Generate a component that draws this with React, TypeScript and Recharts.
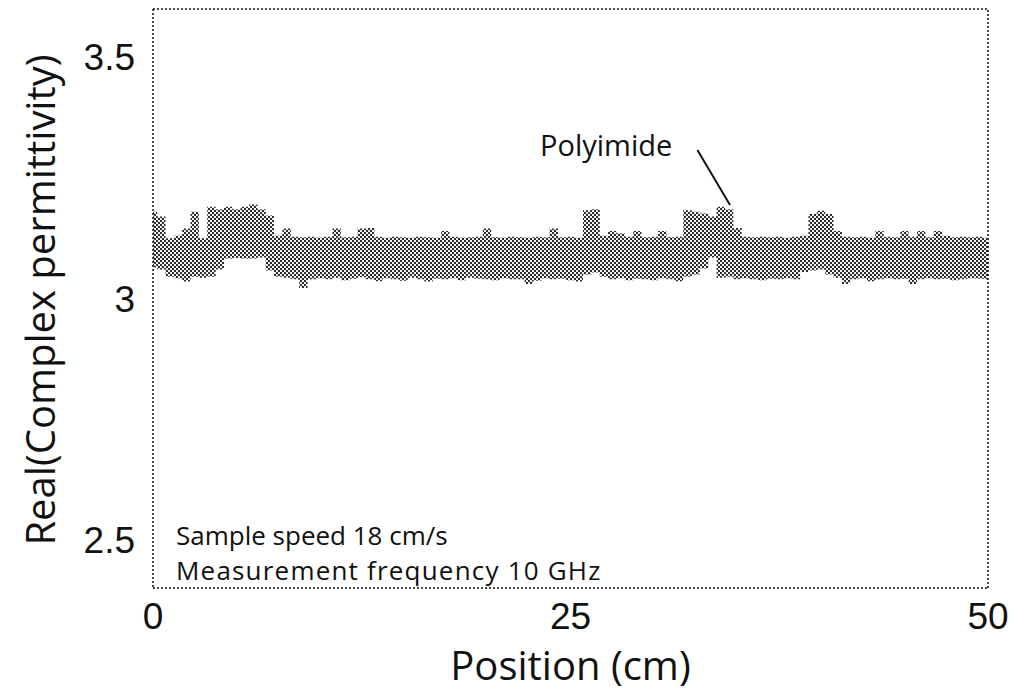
import React from 'react';
import {
  ComposedChart,
  Area,
  XAxis,
  YAxis,
  ReferenceLine,
} from 'recharts';

// upper / lower envelope of the measured band, sampled every 0.5 cm (0 .. 50 cm)
const upper = [
  3.18, 3.17, 3.125, 3.13, 3.145, 3.18, 3.125, 3.19, 3.185, 3.19,
  3.185, 3.19, 3.195, 3.185, 3.172, 3.13, 3.145, 3.128, 3.127, 3.128,
  3.126, 3.128, 3.145, 3.127, 3.128, 3.145, 3.146, 3.128, 3.126, 3.128,
  3.127, 3.126, 3.128, 3.127, 3.126, 3.14, 3.128, 3.126, 3.127, 3.128,
  3.145, 3.127, 3.126, 3.128, 3.127, 3.126, 3.128, 3.127, 3.145, 3.127,
  3.128, 3.126, 3.183, 3.185, 3.13, 3.14, 3.135, 3.128, 3.14, 3.127,
  3.128, 3.14, 3.127, 3.128, 3.183, 3.18, 3.176, 3.17, 3.19, 3.185,
  3.146, 3.128, 3.127, 3.128, 3.127, 3.128, 3.126, 3.128, 3.13, 3.175,
  3.182, 3.175, 3.14, 3.128, 3.127, 3.128, 3.126, 3.14, 3.128, 3.127,
  3.14, 3.128, 3.14, 3.127, 3.14, 3.13, 3.127, 3.128, 3.127, 3.128,
  3.126,
];

const lower = [
  3.065, 3.06, 3.045, 3.042, 3.035, 3.045, 3.043, 3.045, 3.06, 3.083,
  3.084, 3.083, 3.083, 3.085, 3.058, 3.045, 3.043, 3.04, 3.022, 3.04,
  3.042, 3.04, 3.043, 3.038, 3.041, 3.044, 3.04, 3.036, 3.042, 3.04,
  3.037, 3.043, 3.04, 3.035, 3.041, 3.04, 3.042, 3.038, 3.043, 3.041,
  3.04, 3.038, 3.042, 3.04, 3.04, 3.03, 3.037, 3.042, 3.04, 3.041,
  3.038, 3.035, 3.05, 3.054, 3.045, 3.04, 3.042, 3.038, 3.041, 3.04,
  3.038, 3.042, 3.04, 3.036, 3.045, 3.05, 3.062, 3.085, 3.043, 3.045,
  3.04, 3.042, 3.04, 3.038, 3.041, 3.04, 3.042, 3.04, 3.055, 3.058,
  3.06, 3.05, 3.043, 3.03, 3.04, 3.042, 3.036, 3.04, 3.042, 3.04,
  3.041, 3.03, 3.04, 3.042, 3.04, 3.041, 3.038, 3.04, 3.042, 3.041,
  3.04,
];

const xTicks = [0, 25, 50];
const yTicks = [2.5, 3, 3.5];

const data = upper.map((hi, i) => ({ x: i * 0.5, band: [lower[i], hi] }));

const tickFont = { fontFamily: '"Liberation Sans Narrow", "Liberation Sans", sans-serif', fontSize: 37, fill: '#111' };
const border = { stroke: '#111', strokeWidth: 1.5, strokeDasharray: '2 2' };
const textFont = '"Open Sans", sans-serif';

export default function App() {
  return (
    <div style={{ position: 'absolute', left: 0, top: 0, width: 1016, height: 696, background: '#fff' }}>
      <ComposedChart
        width={1016}
        height={696}
        data={data}
        margin={{ top: 9, right: 28, bottom: 0, left: 0 }}
      >
        <defs>
          <pattern id="halftone" width="4" height="4" patternUnits="userSpaceOnUse">
            <circle cx="1" cy="1" r="1.15" fill="#222" />
            <circle cx="3" cy="3" r="1.15" fill="#222" />
          </pattern>
        </defs>
        <XAxis
          dataKey="x"
          type="number"
          domain={[0, 50]}
          ticks={xTicks}
          tickLine={false}
          axisLine={border}
          tick={tickFont}
          tickMargin={9}
          height={108}
        />
        <YAxis
          type="number"
          domain={[2.4, 3.6]}
          ticks={yTicks}
          tickLine={false}
          axisLine={border}
          tick={tickFont}
          tickMargin={12}
          width={153}
        />
        {/* top and right edges of the frame */}
        <ReferenceLine y={3.6} {...border} />
        <ReferenceLine x={50} {...border} />
        <Area
          dataKey="band"
          type="step"
          stroke="none"
          fill="url(#halftone)"
          fillOpacity={1}
          isAnimationActive={false}
        />
        <ReferenceLine
          segment={[{ x: 32.6, y: 3.308 }, { x: 34.55, y: 3.194 }]}
          stroke="#111"
          strokeWidth={2}
        />
      </ComposedChart>

      <div style={{ position: 'absolute', left: 540, top: 128, fontFamily: textFont, fontSize: 29, lineHeight: 1.2, color: '#111' }}>
        Polyimide
      </div>
      <div style={{ position: 'absolute', left: 176, top: 518, fontFamily: textFont, fontSize: 26, color: '#111', lineHeight: '35px' }}>
        Sample speed 18 cm/s
        <br />
        <span style={{ letterSpacing: 1.2 }}>Measurement frequency 10 GHz</span>
      </div>
      <div style={{ position: 'absolute', left: 153, width: 835, top: 645, lineHeight: 1, textAlign: 'center', fontFamily: textFont, fontSize: 40, color: '#111' }}>
        Position (cm)
      </div>
      <div
        style={{
          position: 'absolute',
          left: 40,
          top: 300,
          transform: 'translate(-50%, -50%) rotate(-90deg)',
          whiteSpace: 'nowrap',
          lineHeight: 1,
          fontFamily: textFont,
          fontSize: 40,
          color: '#111',
        }}
      >
        Real(Complex permittivity)
      </div>
    </div>
  );
}
